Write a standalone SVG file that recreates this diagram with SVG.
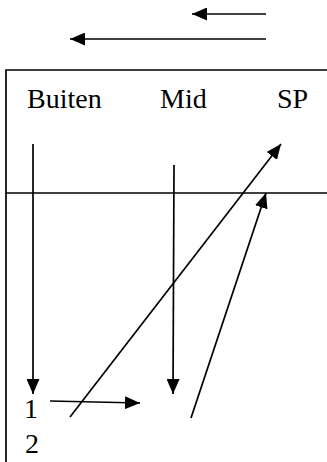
<svg xmlns="http://www.w3.org/2000/svg" width="327" height="462" viewBox="0 0 327 462">
<style>
.ln{stroke:#000;stroke-width:1.7;fill:none}
.ar{stroke:#000;stroke-width:1.7;fill:none;marker-end:url(#ah)}
.t{font-family:"Liberation Serif",serif;font-size:28px;fill:#000}
</style>
<defs>
<marker id="ah" markerUnits="userSpaceOnUse" markerWidth="15" markerHeight="13" refX="15" refY="6.5" orient="auto">
<path d="M0,0 L15,6.5 L0,13 Z" fill="#000"/>
</marker>
</defs>
<rect width="327" height="462" fill="#fff"/>
<g id="frame">
<path class="ln" d="M6,462 V70 H327"/>
<path class="ln" d="M6,193 H327"/>
</g>
<g id="labels">
<text class="t" x="27" y="108">Buiten</text>
<text class="t" x="160" y="108">Mid</text>
<text class="t" x="277" y="108">SP</text>
<text class="t" x="24" y="418">1</text>
<text class="t" x="25" y="453">2</text>
</g>
<g id="connectors">
<line class="ar" x1="266" y1="14" x2="192" y2="14"/>
<line class="ar" x1="266" y1="39" x2="70" y2="39"/>
<line class="ar" x1="33" y1="144" x2="33" y2="394"/>
<line class="ar" x1="174" y1="165" x2="173" y2="394"/>
<line class="ar" x1="70" y1="417" x2="281" y2="144"/>
<line class="ar" x1="191" y1="418" x2="266" y2="193"/>
<line class="ar" x1="50" y1="401" x2="140" y2="403"/>
</g>
</svg>
